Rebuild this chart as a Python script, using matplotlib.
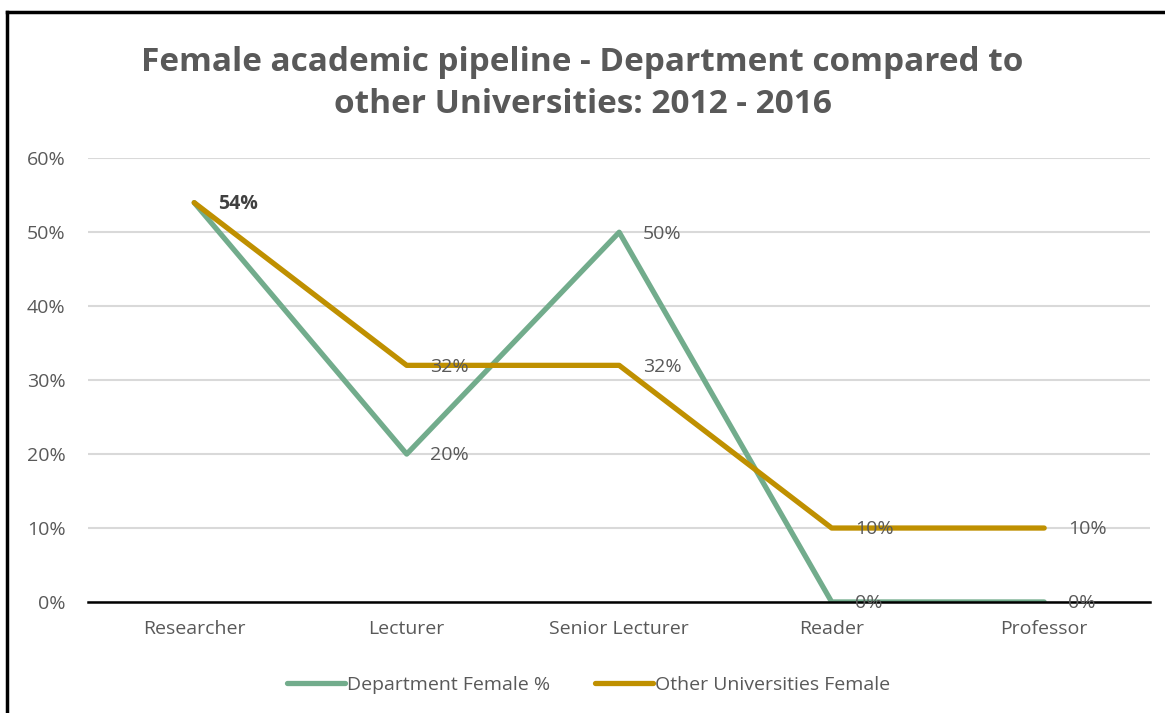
import matplotlib.pyplot as plt
from matplotlib.lines import Line2D
from matplotlib.ticker import PercentFormatter

plt.rcParams['font.family'] = ['Open Sans', 'DejaVu Sans']

categories = ["Researcher", "Lecturer", "Senior Lecturer", "Reader", "Professor"]
dept_female = [0.54, 0.20, 0.50, 0.00, 0.00]
other_female = [0.54, 0.32, 0.32, 0.10, 0.10]
dept_labels = [None, "20%", "50%", "0%", "0%"]
other_labels = ["54%", "32%", "32%", "10%", "10%"]

GREEN = "#72AC8C"
GOLD = "#BF9000"
TEXT = "#595959"
FS = 14

fig = plt.figure(figsize=(11.65, 7.13), dpi=100)
ax = fig.add_axes([0.0755, 0.1557, 0.912, 0.6223])

x = list(range(len(categories)))
ax.plot(x, dept_female, color=GREEN, lw=3.8, solid_capstyle="round",
        label="Department Female %", zorder=3)
ax.plot(x, other_female, color=GOLD, lw=3.8, solid_capstyle="round",
        label="Other Universities Female", zorder=3)

for xi, (lab, v) in enumerate(zip(dept_labels, dept_female)):
    if lab:
        ax.annotate(lab, (xi, v), xytext=(17, -1), textcoords="offset points",
                    va="center", ha="left", fontsize=FS, color=TEXT, zorder=5)
for xi, (lab, v) in enumerate(zip(other_labels, other_female)):
    bold = xi == 0
    ax.annotate(lab, (xi, v), xytext=(17, -1), textcoords="offset points",
                va="center", ha="left", fontsize=FS, color="#404040" if bold else TEXT,
                fontweight="bold" if bold else "normal", zorder=5)

ax.set_xlim(-0.5, 4.5)
ax.set_ylim(0, 0.6)
ax.set_yticks([0, 0.1, 0.2, 0.3, 0.4, 0.5, 0.6])
ax.yaxis.set_major_formatter(PercentFormatter(1.0, decimals=0))
ax.set_xticks(x)
ax.set_xticklabels(categories)
ax.tick_params(axis="both", length=0, labelsize=FS, labelcolor=TEXT)
ax.tick_params(axis="y", pad=16)
ax.tick_params(axis="x", pad=13)
ax.grid(axis="y", color="#D9D9D9", lw=1.5)
ax.set_axisbelow(True)
for s in ["top", "right", "left"]:
    ax.spines[s].set_visible(False)
ax.spines["bottom"].set_color("black")
ax.spines["bottom"].set_linewidth(1.8)
ax.spines["bottom"].set_zorder(4)

fig.text(0.5, 0.883, "Female academic pipeline - Department compared to\nother Universities: 2012 - 2016",
         ha="center", va="center", fontsize=24, fontweight="bold", color=TEXT, linespacing=1.35)

fig.legend(loc="center", bbox_to_anchor=(0.505, 0.039), ncol=2, frameon=False,
           fontsize=FS, labelcolor=TEXT, handlelength=3.0, handletextpad=0.1,
           columnspacing=2.3)

# outer frame (top and left edges visible in the reference)
fig.add_artist(Line2D([7 / 1165, 1.0], [1 - 12 / 713, 1 - 12 / 713], color="black", lw=2.5,
                      transform=fig.transFigure))
fig.add_artist(Line2D([7 / 1165, 7 / 1165], [0, 1 - 12 / 713], color="black", lw=2.5,
                      transform=fig.transFigure))

fig.savefig("out.png", dpi=100)
